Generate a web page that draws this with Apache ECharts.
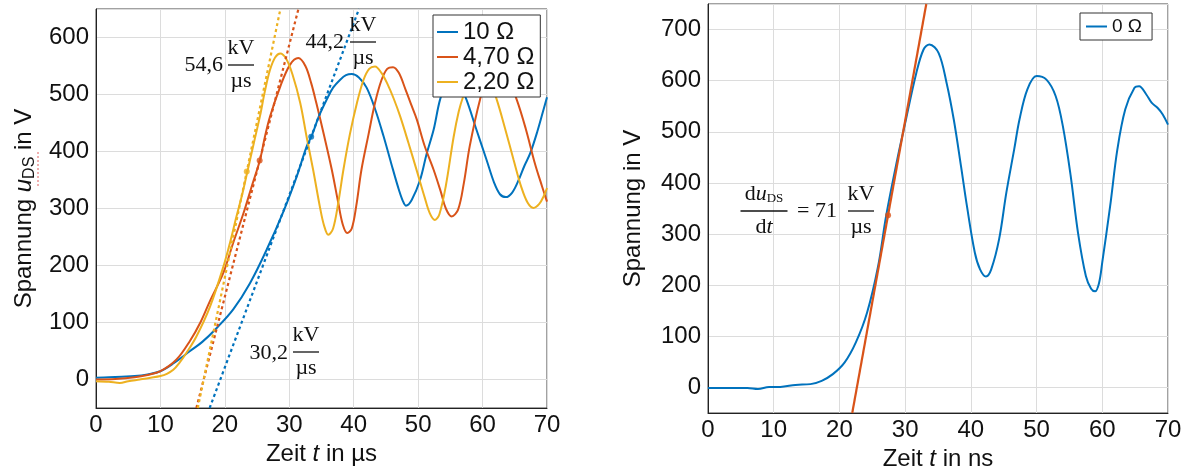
<!DOCTYPE html>
<html>
<head>
<meta charset="utf-8">
<script src="https://cdn.jsdelivr.net/npm/echarts@6/dist/echarts.min.js"></script>
<style>
html, body {margin: 0; padding: 0; background: #fff;}
#chart {width: 1191px; height: 470px;}
</style>
</head>
<body>
<div id="chart"></div>
<script>
// linkes Diagramm, Zeit in µs, Spannung in V
var t10 = [0, 2, 4, 6, 8, 10, 12, 14.6, 16.5, 18.7, 21.3, 23.9, 26.5, 29.1, 31.15, 32.7, 33.5, 34.6, 35.8, 36.8, 37.9, 38.8, 39.7, 40.8, 42, 43.3, 44.6, 45.8, 46.9, 47.6, 48.1, 49, 50.3, 51.3, 52.4, 53.4, 54.3, 55.5, 56.6, 57.5, 59, 60.6, 61.8, 62.7, 63.6, 64.6, 65.6, 66.5, 67.4, 68.5, 69.5, 70];
var u10 = [3, 4, 5, 6, 9, 14.5, 28, 50, 66, 90, 123, 169, 228, 295, 356, 409, 428, 462, 491, 512, 526, 534, 536, 530, 512, 475, 428, 380, 337, 314, 305, 315, 350, 395, 438, 491, 515, 523, 512, 491, 440, 386, 345, 325, 320, 328, 350, 375, 397, 435, 475, 495];

var t47 = [0, 3, 6, 8, 10, 12.5, 14.6, 16.2, 17.7, 19.76, 21.3, 22.9, 24.2, 25.45, 26.2, 27, 28.6, 30.1, 31.4, 32.5, 33.4, 34.2, 35.4, 36.6, 37.6, 38.3, 39, 39.7, 40.4, 41.2, 42.3, 43.3, 44.3, 45.2, 46.1, 47, 48, 49, 49.8, 51, 52.4, 53.5, 54.3, 55.2, 56.2, 57.1, 58, 59.6, 60.8, 62.4, 63.9, 65.3, 66.7, 68.1, 69.2, 70];
var u47 = [0, 1, 4, 8, 14.5, 35, 68, 100, 138, 187, 240, 292, 340, 385, 425, 461, 514, 552, 564, 550, 520, 485, 428, 368, 310, 272, 257, 265, 305, 368, 430, 485, 525, 545, 548, 538, 510, 480, 456, 410, 368, 330, 300, 286, 298, 345, 409, 491, 530, 545, 528, 491, 440, 380, 340, 312];

var t22 = [0, 2, 3.7, 5, 6.8, 8.5, 10, 11, 12, 13, 14, 15.6, 17.7, 19.8, 20.8, 21.8, 22.7, 23.5, 24.5, 25.45, 26.2, 27, 27.8, 28.6, 29.5, 30.5, 31.7, 32.7, 33.7, 34.8, 35.4, 36.05, 36.8, 37.6, 38.4, 39.4, 40.5, 41.5, 42.4, 43.3, 44.3, 45.3, 46.2, 47.2, 48.5, 49.8, 51, 51.8, 52.6, 53.3, 54.3, 55.5, 56.3, 57, 58.3, 59.6, 60.9, 62.2, 63.5, 64.8, 66, 67, 67.9, 68.8, 69.5, 70];
var u22 = [-3, -4, -6, -3, 0, 3, 6, 10, 17, 30, 46, 76, 128, 199, 240, 286, 325, 365, 415, 462, 505, 543, 565, 572, 563, 535, 485, 425, 368, 300, 270, 254, 265, 310, 368, 430, 485, 525, 545, 549, 538, 517, 493, 462, 415, 366, 320, 292, 280, 290, 340, 425, 470, 497, 535, 550, 530, 491, 440, 386, 338, 310, 301, 308, 322, 336];

// Tangenten links: Punkt und Steigung in V/µs
var tanT = [33.4, 25.4, 23.4];
var tanU = [426, 384, 365];
var tanSlope = [30.2, 44.2, 54.6];

// rechtes Diagramm, Zeit in ns
var t0 = [0, 3, 6, 7.6, 9.3, 11, 13.3, 15.6, 17.3, 19, 20.8, 22.5, 24.2, 25.9, 27.1, 28.8, 29.9, 31.7, 32.8, 33.7, 35.1, 36.3, 37.4, 38.5, 39.4, 40.6, 41.4, 42.3, 43.1, 44.3, 45.4, 46.6, 47.4, 48.6, 50, 51.5, 52.9, 54, 55.2, 56.3, 57.5, 58.3, 58.9, 59.5, 60, 61.2, 62.3, 63.5, 64.9, 65.6, 66.7, 67.5, 68.4, 69.2, 70];
var u0 = [-1, -1, -1, -3, 1, 1, 5, 6.5, 13, 26, 49, 88, 146, 238, 335, 446, 511, 615, 661, 671, 654, 596, 524, 433, 355, 264, 231, 217, 231, 290, 381, 466, 524, 583, 609, 602, 570, 511, 413, 303, 218, 193, 188, 204, 245, 355, 466, 544, 586, 589, 573, 557, 547, 534, 514];
var tan0T = [27.4];
var tan0U = [337];
var tan0Slope = [71];

var xTicks = [0, 10, 20, 30, 40, 50, 60, 70];
var yTicksLeft = [0, 100, 200, 300, 400, 500, 600];
var yTicksRight = [0, 100, 200, 300, 400, 500, 600, 700];

var blue = '#0072BD', orange = '#D95319', yellow = '#EDB120';
var sans = 'Liberation Sans', serif = 'Liberation Serif';

function zip(t, u) {
    return t.map(function (v, i) { return [v, u[i]]; });
}
function tangent(t, u, s, ymin, ymax) {
    return [[t + (ymin - u) / s, ymin], [t + (ymax - u) / s, ymax]];
}

function xAxisOf(idx, unit) {
    return {
        type: 'value', gridIndex: idx, min: 0, max: 70, splitNumber: 7,
        name: '{n|Zeit }{i|t}{n| in ' + unit + '}', nameLocation: 'middle', nameGap: 33,
        nameTextStyle: {
            rich: {
                n: {fontSize: 24, fontFamily: sans, color: '#111'},
                i: {fontSize: 24, fontFamily: sans, fontStyle: 'italic', color: '#111'}
            }
        },
        axisLine: {onZero: false, lineStyle: {color: '#222'}},
        axisTick: {show: false},
        axisLabel: {
            fontSize: 24, fontFamily: sans, color: '#111', margin: 5,
            formatter: function (v) { return xTicks.indexOf(v) >= 0 ? v : ''; }
        },
        splitLine: {lineStyle: {color: '#dcdcdc'}}
    };
}
function yAxisOf(idx, max, ticks, name, gap) {
    return {
        type: 'value', gridIndex: idx, min: -50, max: max, splitNumber: (max + 50) / 100,
        name: name, nameLocation: 'middle', nameGap: gap,
        nameTextStyle: {
            rich: {
                n: {fontSize: 24, fontFamily: sans, color: '#111', lineHeight: 28},
                i: {fontSize: 24, fontFamily: sans, fontStyle: 'italic', color: '#111', lineHeight: 28},
                s: {fontSize: 16, fontFamily: sans, color: '#111', verticalAlign: 'bottom', lineHeight: 24}
            }
        },
        axisLine: {show: true, onZero: false, lineStyle: {color: '#222'}},
        axisTick: {show: false},
        axisLabel: {
            fontSize: 24, fontFamily: sans, color: '#111', margin: 7,
            formatter: function (v) { return ticks.indexOf(v) >= 0 ? v : ''; }
        },
        splitLine: {lineStyle: {color: '#dcdcdc'}}
    };
}

function curve(name, t, u, color, xi) {
    return {
        name: name, type: 'line', xAxisIndex: xi, yAxisIndex: xi,
        data: zip(t, u), smooth: 0.35, showSymbol: false,
        lineStyle: {color: color, width: 2}, itemStyle: {color: color}
    };
}
function tanLine(t, u, s, color, xi, ymax, dotted) {
    return {
        name: 'tan', type: 'line', xAxisIndex: xi, yAxisIndex: xi,
        data: tangent(t, u, s, -50, ymax), showSymbol: false, z: 3,
        lineStyle: {color: color, width: 2.2, type: dotted ? [3, 3] : 'solid'}
    };
}
function dot(t, u, color, xi) {
    return {
        name: 'dot', type: 'scatter', xAxisIndex: xi, yAxisIndex: xi,
        data: [[t, u]], symbolSize: 6, z: 4, itemStyle: {color: color}
    };
}

// Bruch als Grafik
var mathText = {fontSize: 22, fontFamily: serif, fill: '#111'};
function txt(x, y, text, align, rich) {
    return {
        type: 'text', x: x, y: y, z: 100,
        style: Object.assign({}, mathText, {text: text, align: align || 'center', verticalAlign: 'middle', rich: rich})
    };
}
function frac(cx, y, w, num, den, rich) {
    return [
        txt(cx, y - 17, num, 'center', rich),
        {type: 'line', z: 100, shape: {x1: cx - w / 2, y1: y, x2: cx + w / 2, y2: y}, style: {stroke: '#111', lineWidth: 1.3}},
        txt(cx, y + 16, den, 'center', rich)
    ];
}
var mrich = {
    n: {fontSize: 22, fontFamily: serif, fill: '#111'},
    i: {fontSize: 22, fontFamily: serif, fontStyle: 'italic', fill: '#111'},
    s: {fontSize: 13, fontFamily: serif, fill: '#111', verticalAlign: 'bottom', lineHeight: 20}
};

var graphics = [].concat(
    [txt(223, 65, '54,6', 'right')], frac(241, 65, 26, 'kV', 'µs'),
    [txt(344, 42, '44,2', 'right')], frac(363, 42, 26, 'kV', 'µs'),
    [txt(288, 353, '30,2', 'right')], frac(306, 352, 26, 'kV', 'µs'),
    frac(764, 211, 47, '{n|d}{i|u}{s|DS}', '{n|d}{i|t}', mrich),
    [txt(817, 211, '= 71', 'center')], frac(861, 211, 26, 'kV', 'µs'),
    [{type: 'line', z: 100, shape: {x1: 38, y1: 152, x2: 38, y2: 188}, style: {stroke: '#e06060', lineWidth: 1, lineDash: [2, 2]}}]
);

var chart = echarts.init(document.getElementById('chart'));
chart.setOption({
    animation: false,
    backgroundColor: '#fff',
    grid: [
        {left: 96, top: 9, width: 451, height: 399, outerBoundsMode: 'none', show: true, borderColor: '#444', borderWidth: 1},
        {left: 708, top: 4, width: 460, height: 409, outerBoundsMode: 'none', show: true, borderColor: '#444', borderWidth: 1}
    ],
    legend: [
        {
            data: ['10 Ω', '4,70 Ω', '2,20 Ω'], orient: 'vertical', left: 433, top: 15,
            itemWidth: 21, itemHeight: 2, itemGap: 1, icon: 'rect',
            padding: [5, 6, 3, 4], borderColor: '#333', borderWidth: 1, backgroundColor: '#fff',
            textStyle: {fontSize: 24, fontFamily: sans, color: '#111'}
        },
        {
            data: ['0 Ω'], left: 1080, top: 13,
            itemWidth: 21, itemHeight: 2, icon: 'rect',
            padding: [4, 10, 4, 6], borderColor: '#333', borderWidth: 1, backgroundColor: '#fff',
            textStyle: {fontSize: 19, fontFamily: sans, color: '#111'}
        }
    ],
    xAxis: [xAxisOf(0, 'µs'), xAxisOf(1, 'ns')],
    yAxis: [
        yAxisOf(0, 650, yTicksLeft, '{n|Spannung }{i|u}{s|DS}{n| in V}', 58),
        yAxisOf(1, 750, yTicksRight, '{n|Spannung in V}', 61)
    ],
    series: [
        curve('10 Ω', t10, u10, blue, 0),
        curve('4,70 Ω', t47, u47, orange, 0),
        curve('2,20 Ω', t22, u22, yellow, 0),
        tanLine(tanT[0], tanU[0], tanSlope[0], blue, 0, 650, true),
        tanLine(tanT[1], tanU[1], tanSlope[1], orange, 0, 650, true),
        tanLine(tanT[2], tanU[2], tanSlope[2], yellow, 0, 650, true),
        dot(tanT[0], tanU[0], blue, 0),
        dot(tanT[1], tanU[1], orange, 0),
        dot(tanT[2], tanU[2], yellow, 0),
        curve('0 Ω', t0, u0, blue, 1),
        tanLine(tan0T[0], tan0U[0], tan0Slope[0], orange, 1, 750, false),
        dot(tan0T[0], tan0U[0], orange, 1)
    ],
    graphic: graphics
});
</script>
</body>
</html>
